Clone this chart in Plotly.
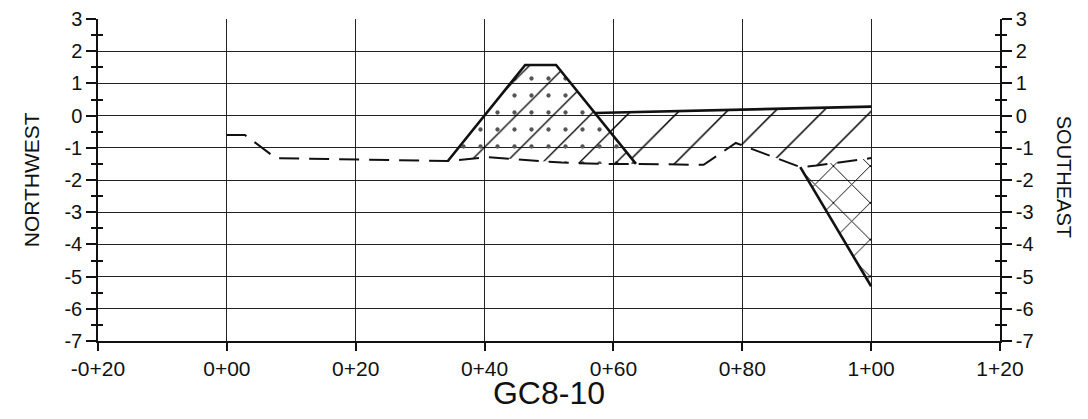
import plotly.graph_objects as go

# ---- data ----
x_ticks = [-20, 0, 20, 40, 60, 80, 100, 120]
x_tick_labels = ["-0+20", "0+00", "0+20", "0+40", "0+60", "0+80", "1+00", "1+20"]
y_ticks = [3, 2, 1, 0, -1, -2, -3, -4, -5, -6, -7]
y_tick_labels = ["3", "2", "1", "0", "-1", "-2", "-3", "-4", "-5", "-6", "-7"]
y_minor = [2.5, 1.5, 0.5, -0.5, -1.5, -2.5, -3.5, -4.5, -5.5, -6.5]

# existing ground (dashed)
ground_x = [0, 2.8, 7.6, 20, 34.3, 40.5, 46, 52, 58, 63.5, 74, 79, 81, 89, 91.5, 95, 97, 100]
ground_y = [-0.6, -0.6, -1.32, -1.37, -1.41, -1.29, -1.38, -1.46, -1.50, -1.50, -1.53, -0.85, -1.0, -1.6, -1.55, -1.45, -1.40, -1.32]

# design section (solid, thick)
berm_x = [34.3, 46.3, 51.1, 63.5]
berm_y = [-1.41, 1.57, 1.57, -1.50]
top_x = [57.1, 100]
top_y = [0.08, 0.28]
cut_x = [89, 100]
cut_y = [-1.6, -5.3]

# filled regions
fill_berm_x = [34.3, 46.3, 51.1, 63.5, 58, 52, 46, 40.5, 34.3]
fill_berm_y = [-1.41, 1.57, 1.57, -1.50, -1.50, -1.46, -1.38, -1.29, -1.41]
fill_right_x = [57.1, 100, 100, 97, 95, 91.5, 89, 81, 79, 74, 63.5, 57.1]
fill_right_y = [0.08, 0.28, -1.32, -1.40, -1.45, -1.55, -1.6, -1.0, -0.85, -1.53, -1.50, 0.08]
fill_cut_x = [89, 100, 100, 97, 95, 91.5, 89]
fill_cut_y = [-1.6, -5.3, -1.32, -1.40, -1.45, -1.55, -1.6]

FONT = "Liberation Sans, Arial, sans-serif"
fig = go.Figure()

def pattern_fill(xs, ys, shape, size, solidity, color="#000"):
    fig.add_trace(go.Scatter(
        x=xs, y=ys, mode="lines", line=dict(width=0, color="rgba(0,0,0,0)"),
        fill="toself", fillcolor="rgba(0,0,0,0)",
        fillpattern=dict(shape=shape, size=size, solidity=solidity, fgopacity=1,
                         fgcolor=color, bgcolor="rgba(0,0,0,0)"),
        hoverinfo="skip", showlegend=False))

pattern_fill(fill_berm_x, fill_berm_y, ".", 17, 0.05, "#555")
pattern_fill(fill_berm_x, fill_berm_y, "/", 26, 0.05, "#000")
pattern_fill(fill_right_x, fill_right_y, "/", 34, 0.045, "#000")
pattern_fill(fill_cut_x, fill_cut_y, "x", 26, 0.07, "#000")

fig.add_trace(go.Scatter(x=ground_x, y=ground_y, mode="lines",
                         line=dict(color="#111", width=2, dash="20px,10px"),
                         showlegend=False, hoverinfo="skip"))
for xs, ys in [(berm_x, berm_y), (top_x, top_y), (cut_x, cut_y)]:
    fig.add_trace(go.Scatter(x=xs, y=ys, mode="lines",
                             line=dict(color="#111", width=2.6),
                             showlegend=False, hoverinfo="skip"))

# invisible traces to activate secondary axes
for ax in ["y2", "y3", "y4"]:
    fig.add_trace(go.Scatter(x=[0], y=[0], yaxis=ax, mode="markers",
                             marker=dict(opacity=0), showlegend=False, hoverinfo="skip"))

yr = [-7, 3]
common_y = dict(range=yr, fixedrange=True, zeroline=False, automargin=False)
tick_font = dict(size=20, family=FONT, color="#111")
fig.update_layout(
    width=1072, height=403,
    margin=dict(l=90, r=80, t=11, b=70),
    paper_bgcolor="white", plot_bgcolor="white",
    font=dict(family=FONT, color="#111"),
    xaxis=dict(range=[-20, 120], tickvals=x_ticks, ticktext=x_tick_labels,
               automargin=False, fixedrange=True,
               showgrid=True, gridcolor="#222", gridwidth=1.2,
               showline=True, linecolor="#111", linewidth=1.5, mirror=False,
               ticks="outside", ticklen=8, tickcolor="#111", tickwidth=1.5,
               tickfont=dict(size=21, family=FONT, color="#111"), zeroline=False,
               title=dict(text="GC8-10", font=dict(size=32, family=FONT, color="#111"),
                          standoff=2)),
    yaxis=dict(**common_y, tickvals=y_ticks, ticktext=y_tick_labels,
               showgrid=True, gridcolor="#222", gridwidth=1.2,
               showline=True, linecolor="#111", linewidth=1.5,
               ticks="outside", ticklen=10, tickcolor="#111", tickwidth=1.5,
               minor=dict(tickvals=y_minor, ticks="outside", ticklen=5, tickcolor="#111",
                          tickwidth=1.5, showgrid=False),
               tickfont=tick_font),
    yaxis2=dict(**common_y, overlaying="y", side="right", anchor="x",
                tickvals=y_ticks, ticktext=y_tick_labels,
                showgrid=False, showline=True, linecolor="#111", linewidth=1.5,
                ticks="outside", ticklen=10, tickcolor="#111", tickwidth=1.5,
                minor=dict(tickvals=y_minor, ticks="outside", ticklen=5, tickcolor="#111",
                           tickwidth=1.5, showgrid=False),
                tickfont=tick_font),
    yaxis3=dict(**common_y, overlaying="y", side="left", anchor="x", tickvals=y_minor,
                showgrid=False, showline=False, showticklabels=False,
                ticks="inside", ticklen=5, tickcolor="#111", tickwidth=1.5),
    yaxis4=dict(**common_y, overlaying="y", side="right", anchor="x", tickvals=y_minor,
                showgrid=False, showline=False, showticklabels=False,
                ticks="inside", ticklen=5, tickcolor="#111", tickwidth=1.5),
    annotations=[
        dict(text="NORTHWEST", xref="paper", yref="paper", x=-0.074, y=0.5,
             xanchor="center", yanchor="middle", textangle=-90, showarrow=False,
             font=dict(size=21, family=FONT, color="#111")),
        dict(text="SOUTHEAST", xref="paper", yref="paper", x=1.071, y=0.51,
             xanchor="center", yanchor="middle", textangle=90, showarrow=False,
             font=dict(size=20, family=FONT, color="#111")),
    ],
)

fig.write_html("out.html")
